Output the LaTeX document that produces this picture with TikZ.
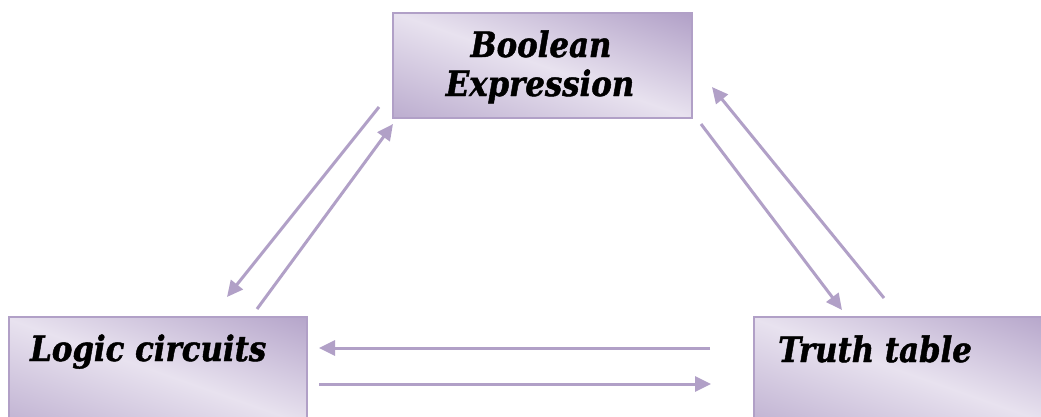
\documentclass[tikz,border=0pt]{standalone}
\usepackage{fontspec}
\setmainfont{DejaVu Serif}[BoldItalicFeatures={FakeBold=1.3,FakeStretch=0.88}]
\usetikzlibrary{arrows.meta,calc}
\definecolor{lav}{HTML}{B1A0C7}
\definecolor{lavlight}{HTML}{E8E2EF}
\tikzset{
  box/.style={draw=lav, line width=1.8pt, inner sep=0pt, anchor=north west,
    path picture={
      \shade[transform canvas={rotate around={-19.5:(path picture bounding box.center)}},
        top color=lav, bottom color=lav!80!lavlight, middle color=lavlight]
        ($(path picture bounding box.center)+(-230,-#1)$) rectangle
        ($(path picture bounding box.center)+(230,#1)$);}},
  lbl/.style={font=\bfseries\itshape\fontsize{35}{40}\selectfont, inner sep=0pt, text=black},
  conn/.style={draw=lav, line width=3pt, -{Triangle[length=16pt,width=15pt]}}
}
\begin{document}
\begin{tikzpicture}[x=1pt,y=-1pt]
\clip (0,0) rectangle (1041,416);
\fill[white] (0,0) rectangle (1041,416);
% boxes
\node[box=99, minimum width=299pt, minimum height=105pt] (bbox) at (392,12) {};
\node[box=110, minimum width=298pt, minimum height=110pt] (lbox) at (8,316) {};
\node[box=110, minimum width=300pt, minimum height=110pt] (tbox) at (753,316) {};
% labels
\node[lbl, anchor=base] (btxt1) at (541,57) {Boolean};
\node[lbl, anchor=base] (btxt2) at (540,96) {Expression};
\node[lbl, anchor=base west] (ltxt) at (30,361) {Logic circuits};
\node[lbl, anchor=base west] (ttxt) at (778,362) {Truth table};
% arrow end points
\coordinate (a1s) at (379,107); \coordinate (a1e) at (227,297);
\coordinate (a2s) at (257,309); \coordinate (a2e) at (393,124);
\coordinate (a3s) at (884,298); \coordinate (a3e) at (712,87);
\coordinate (a4s) at (701,124); \coordinate (a4e) at (842,310);
\coordinate (a5s) at (710,348); \coordinate (a5e) at (319,348);
\coordinate (a6s) at (319,384); \coordinate (a6e) at (711,384);
\draw[conn] (a1s) -- (a1e);
\draw[conn] (a2s) -- (a2e);
\draw[conn] (a3s) -- (a3e);
\draw[conn] (a4s) -- (a4e);
\draw[conn] (a5s) -- (a5e);
\draw[conn] (a6s) -- (a6e);
\end{tikzpicture}
\end{document}
